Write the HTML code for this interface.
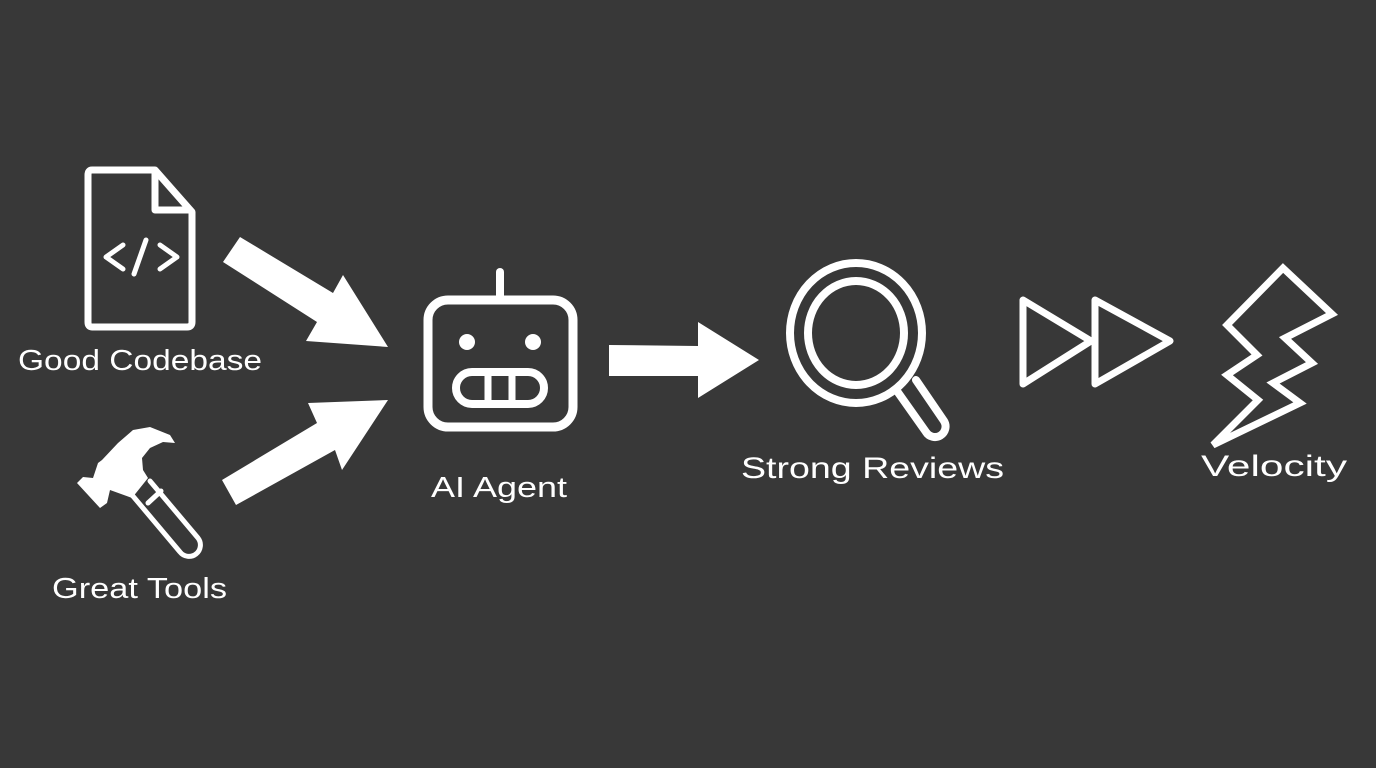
<!DOCTYPE html>
<html><head><meta charset="utf-8"><style>
html,body{margin:0;padding:0;background:#383838;}
svg{display:block;}
text{font-family:"Liberation Sans",sans-serif;fill:#fff;}
</style></head><body>
<svg width="1376" height="768" viewBox="0 0 1376 768" xmlns="http://www.w3.org/2000/svg">
<rect width="1376" height="768" fill="#383838"/>
<g fill="none" stroke="#fff" stroke-linejoin="round" stroke-linecap="round">
 <!-- document -->
 <path d="M92 170 H155 L192 212 V322 Q192 327 187 327 H92 Q88 327 88 322 V175 Q88 170 92 170 Z" stroke-width="7"/>
 <path d="M155 172 V210 H190" stroke-width="7"/>
 <path d="M123 245 L106 257 L123 269 M160 245 L177 257 L160 269 M146 240 L134 274" stroke-width="5"/>
 <!-- robot -->
 <rect x="428" y="300" width="145" height="127" rx="20" stroke-width="9"/>
 <line x1="500" y1="272" x2="500" y2="298" stroke-width="8"/>
 <rect x="456" y="372" width="88" height="32" rx="16" stroke-width="8"/>
 <line x1="488" y1="374" x2="488" y2="402" stroke-width="7"/>
 <line x1="512" y1="374" x2="512" y2="402" stroke-width="7"/>
 <!-- magnifier -->
 <ellipse cx="856" cy="333" rx="66" ry="70" stroke-width="8"/>
 <ellipse cx="856" cy="333" rx="48" ry="52" stroke-width="8"/>
 <path d="M897 391 L926 432 A10 10 0 0 0 944 421 L916 380" stroke-width="8"/>
 <!-- triangles -->
 <path d="M1023 300 V384 L1091 341 Z" stroke-width="7"/>
 <path d="M1095 300 V384 L1170 341 Z" stroke-width="7"/>
 <!-- lightning -->
 <path d="M1283 268 L1332 314 L1285 338 L1312 363 L1273 383 L1300 403 L1213 445 L1258 400 L1227 375 L1257 355 L1227 325 Z" stroke-width="7" stroke-linejoin="miter"/>
 <!-- hammer handle -->
 <path d="M132 495 L180 552 A11 11 0 0 0 198 538 L150 481" stroke-width="5"/>
 <line x1="148" y1="503" x2="161" y2="491" stroke-width="5"/>
</g>
<g fill="#fff">
 <circle cx="467" cy="342" r="8"/>
 <circle cx="533" cy="342" r="8"/>
 <polygon points="240,237 223,262 317,322 306,341 388,347 343,275 333,293"/>
 <polygon points="222,480 236,505 335,450 342,470 388,400 308,403 317,423"/>
 <polygon points="609,345 698,346 698,322 759,360 698,398 698,376 609,376"/>
 <polygon points="77,483 83,477 93,478 98,463 102,460 118,443 133,430 150,427 170,435 175,443 163,442 150,448 142,458 143,470 148,478 132,498 110,490 107,503 100,508"/>
</g>
<text x="18" y="370" font-size="29" textLength="244" lengthAdjust="spacingAndGlyphs">Good Codebase</text>
<text x="52" y="598" font-size="29" textLength="175" lengthAdjust="spacingAndGlyphs">Great Tools</text>
<text x="431" y="497" font-size="29" textLength="136" lengthAdjust="spacingAndGlyphs">AI Agent</text>
<text x="741" y="478" font-size="30" textLength="263" lengthAdjust="spacingAndGlyphs">Strong Reviews</text>
<text x="1201" y="476" font-size="30" textLength="146" lengthAdjust="spacingAndGlyphs">Velocity</text>
</svg>
</body></html>
